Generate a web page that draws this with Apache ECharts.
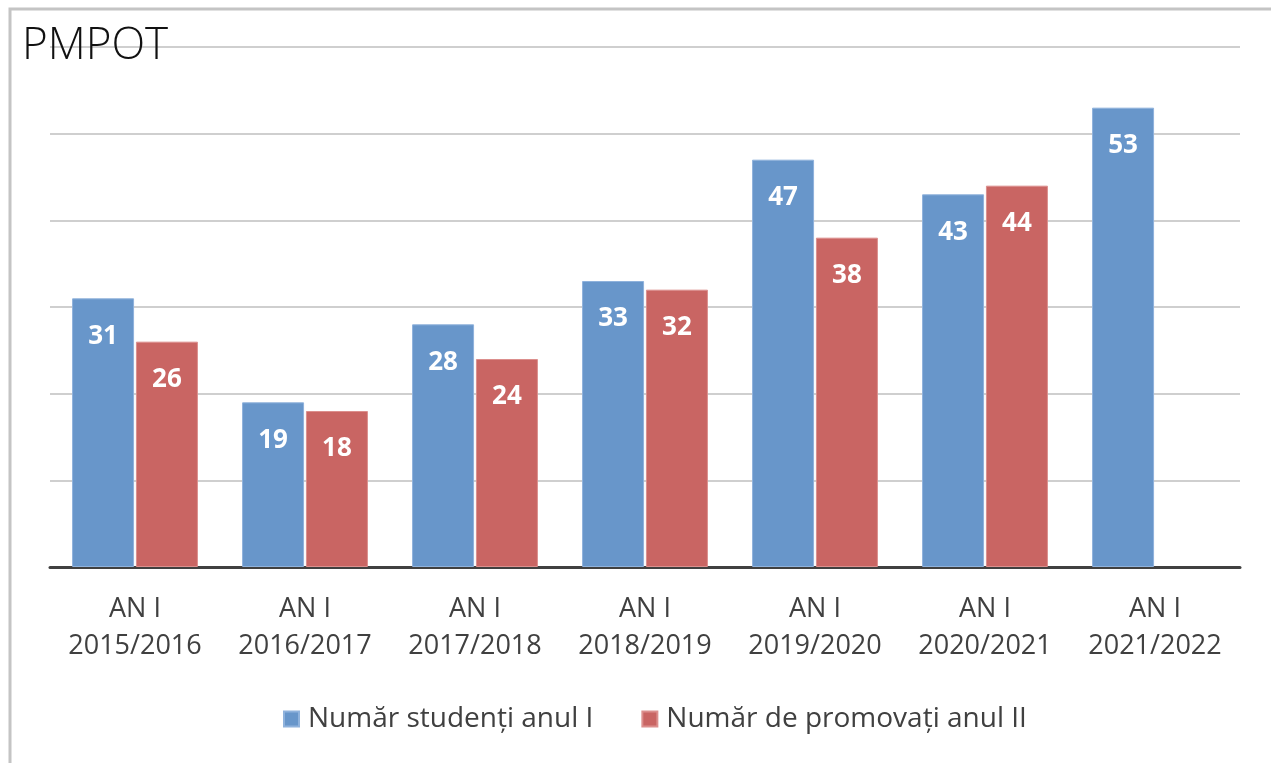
<!DOCTYPE html>
<html>
<head>
<meta charset="utf-8">
<script src="https://cdn.jsdelivr.net/npm/echarts@6/dist/echarts.min.js"></script>
<style>
  html, body { margin: 0; padding: 0; background: #fff; }
  #chart { width: 1271px; height: 763px; }
</style>
</head>
<body>
<div id="chart"></div>
<script>
const categories = ['AN I\n2015/2016', 'AN I\n2016/2017', 'AN I\n2017/2018', 'AN I\n2018/2019', 'AN I\n2019/2020', 'AN I\n2020/2021', 'AN I\n2021/2022']
const studentiAnulI = [31, 19, 28, 33, 47, 43, 53]
const promovatiAnulII = [26, 18, 24, 32, 38, 44, null]
const seriesNames = ['Număr studenți anul I', 'Număr de promovați anul II']

const chart = echarts.init(document.getElementById('chart'))

const labelStyle = {
  show: true,
  position: 'insideTop',
  distance: 25,
  color: '#fff',
  fontFamily: 'Open Sans',
  fontWeight: 'bold',
  fontSize: 26
}

chart.setOption({
  animation: false,
  graphic: [{
    type: 'rect',
    shape: { x: 10, y: 9, width: 1400, height: 900 },
    style: { fill: 'none', stroke: '#c4c4c4', lineWidth: 3 },
    z: -1
  }],
  title: {
    text: 'PMPOT',
    left: 17,
    top: 19,
    textStyle: {
      fontFamily: 'Open Sans',
      fontWeight: 300,
      fontSize: 44,
      color: '#111'
    }
  },
  legend: {
    bottom: 25,
    left: 278,
    itemWidth: 15,
    itemHeight: 15,
    itemGap: 48,
    icon: 'rect',
    textStyle: {
      fontFamily: 'Open Sans',
      fontSize: 28,
      color: '#404040',
      padding: [0, 0, 0, 4]
    },
    data: seriesNames
  },
  grid: {
    left: 50,
    right: 31,
    top: 47,
    bottom: 196
  },
  xAxis: {
    type: 'category',
    data: categories,
    axisTick: { show: false },
    axisLine: { lineStyle: { color: '#404040', width: 3 } },
    axisLabel: {
      margin: 24,
      fontFamily: 'Open Sans',
      fontSize: 27,
      lineHeight: 37,
      color: '#404040',
      interval: 0
    }
  },
  yAxis: {
    type: 'value',
    min: 0,
    max: 60,
    interval: 10,
    axisLabel: { show: false },
    axisLine: { show: false },
    axisTick: { show: false },
    splitLine: { lineStyle: { color: '#cfcfcf', width: 2 } }
  },
  series: [{
    name: seriesNames[0],
    type: 'bar',
    data: studentiAnulI,
    barWidth: 62,
    barGap: '3%',
    itemStyle: { color: '#6896ca', borderColor: '#8fb2dc', borderWidth: 1 },
    label: labelStyle
  }, {
    name: seriesNames[1],
    type: 'bar',
    data: promovatiAnulII,
    barWidth: 62,
    itemStyle: { color: '#c96563', borderColor: '#dc8f8d', borderWidth: 1 },
    label: labelStyle
  }]
})
</script>
</body>
</html>
